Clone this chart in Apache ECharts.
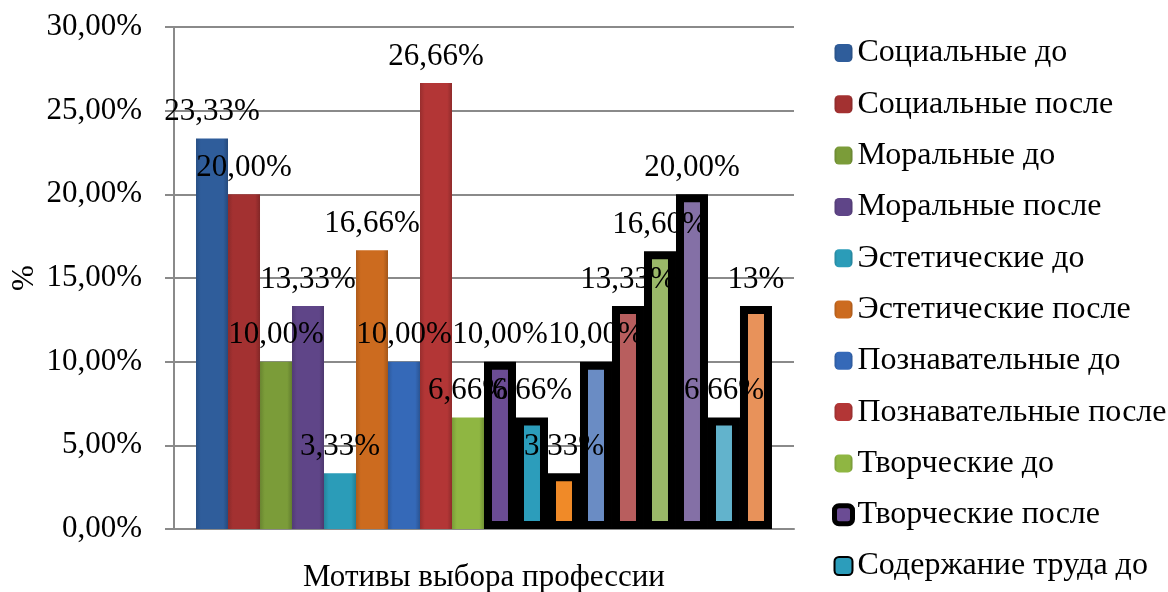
<!DOCTYPE html>
<html>
<head>
<meta charset="utf-8">
<script src="https://cdn.jsdelivr.net/npm/echarts@6/dist/echarts.min.js"></script>
<style>
  html, body { margin: 0; padding: 0; background: #fff; }
  #main { width: 1168px; height: 592px; }
</style>
</head>
<body>
<div id="main"></div>
<script>
// data
const categories = ['Мотивы выбора профессии'];
const seriesNames = [
    'Социальные до', 'Социальные после', 'Моральные до', 'Моральные после',
    'Эстетические до', 'Эстетические после', 'Познавательные до', 'Познавательные после',
    'Творческие до', 'Творческие после', 'Содержание труда до', 'Содержание труда после',
    'Материальные до', 'Материальные после', 'Престижные до', 'Престижные после',
    'Прочие до', 'Прочие после'
];
const values = [23.33, 20.00, 10.00, 13.33, 3.33, 16.66, 10.00, 26.66, 6.66,
                10.00, 6.66, 3.33, 10.00, 13.33, 16.60, 20.00, 6.66, 13.33];
const labelTexts = ['23,33%', '20,00%', '10,00%', '13,33%', '3,33%', '16,66%', '10,00%', '26,66%', '6,66%',
                    '10,00%', '6,66%', '3,33%', '10,00%', '13,33%', '16,60%', '20,00%', '6,66%', '13%'];
const colors = ['#2f5d9b', '#a33131', '#7b9c39', '#5f4588', '#2b9cb8', '#cc6b1f', '#3569b8', '#b33636', '#8fb642',
                '#6b4c94', '#2c9dbb', '#f08a28', '#6a8cc4', '#b85e5e', '#9ab868', '#8470a6', '#62b3cc', '#e8925a'];
const yTicks = [0, 5, 10, 15, 20, 25, 30];
const legendCount = 11;
const firstOutlined = 9;

const font = 'Liberation Serif';

function shade(hex, f) {
    let r = parseInt(hex.slice(1, 3), 16), g = parseInt(hex.slice(3, 5), 16), b = parseInt(hex.slice(5, 7), 16);
    r = Math.round(r * f); g = Math.round(g * f); b = Math.round(b * f);
    return 'rgb(' + Math.min(r, 255) + ',' + Math.min(g, 255) + ',' + Math.min(b, 255) + ')';
}

let myChart = echarts.init(document.getElementById('main'));

let series = seriesNames.map(function (name, i) {
    let outlined = i >= firstOutlined;
    return {
        name: name,
        type: 'bar',
        barGap: 0,
        barCategoryGap: '7.1%',
        data: [values[i]],
        itemStyle: {
            color: {
                type: 'linear', x: 0, y: 0, x2: 1, y2: 0,
                colorStops: [
                    {offset: 0, color: shade(colors[i], 0.85)},
                    {offset: 0.15, color: colors[i]},
                    {offset: 0.85, color: colors[i]},
                    {offset: 1, color: shade(colors[i], 0.8)}
                ]
            },
            borderColor: outlined ? '#000' : 'rgba(0,0,0,0)',
            borderWidth: outlined ? 8 : 0
        },
        label: {
            show: true,
            position: 'top',
            distance: 11,
            color: '#000',
            fontFamily: font,
            fontSize: 31,
            formatter: function () { return labelTexts[i]; }
        },
        emphasis: {disabled: true}
    };
});

let legendData = seriesNames.slice(0, legendCount).map(function (name, i) {
    if (i === firstOutlined) return {name: name, itemStyle: {borderWidth: 5, borderColor: '#000'}};
    return {name: name};
});

let option = {
    animation: false,
    color: colors,
    grid: {left: 174, right: 374, top: 27, bottom: 63, outerBoundsMode: 'none'},
    legend: {
        orient: 'vertical',
        left: 832,
        top: 37,
        padding: 0,
        itemWidth: 18,
        itemHeight: 18,
        itemGap: 19.3,
        data: legendData,
        textStyle: {fontFamily: font, fontSize: 32, lineHeight: 32, color: '#000'}
    },
    xAxis: {
        type: 'category',
        data: categories,
        axisLine: {lineStyle: {color: '#8a8a8a', width: 2}},
        axisTick: {show: false},
        axisLabel: {color: '#000', fontFamily: font, fontSize: 31, margin: 33}
    },
    yAxis: {
        type: 'value',
        min: yTicks[0],
        max: yTicks[yTicks.length - 1],
        interval: 5,
        name: '%',
        nameLocation: 'middle',
        nameGap: 134,
        nameMoveOverlap: false,
        nameTextStyle: {color: '#000', fontFamily: font, fontSize: 31},
        axisLine: {show: true, lineStyle: {color: '#8a8a8a', width: 2}},
        axisTick: {show: true, length: 9, lineStyle: {color: '#8a8a8a', width: 2}},
        splitLine: {lineStyle: {color: '#8a8a8a', width: 2}},
        axisLabel: {
            color: '#000', fontFamily: font, fontSize: 31, margin: 32,
            formatter: function (v) { return v.toFixed(2).replace('.', ',') + '%'; }
        }
    },
    series: series
};
myChart.setOption(option);
</script>
</body>
</html>
